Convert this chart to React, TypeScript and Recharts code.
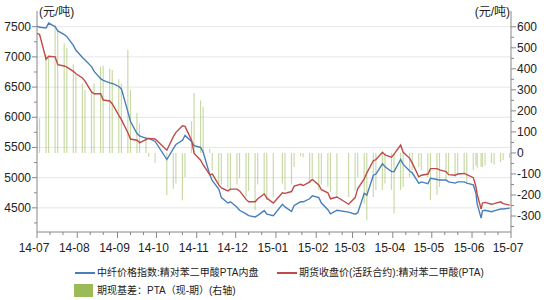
import React from 'react';
import { ComposedChart, Bar, Line, XAxis, YAxis, CartesianGrid } from 'recharts';

// trading days sampled (Tue/Thu, plus a couple of days around the June drop)
const dates = [
  '2014-07-01', '2014-07-03', '2014-07-08', '2014-07-10', '2014-07-15', '2014-07-17', '2014-07-22', '2014-07-24',
  '2014-07-29', '2014-07-31', '2014-08-05', '2014-08-07', '2014-08-12', '2014-08-14', '2014-08-19', '2014-08-21',
  '2014-08-26', '2014-08-28', '2014-09-02', '2014-09-04', '2014-09-09', '2014-09-11', '2014-09-16', '2014-09-18',
  '2014-09-23', '2014-09-25', '2014-09-30', '2014-10-09', '2014-10-14', '2014-10-16', '2014-10-21', '2014-10-23',
  '2014-10-28', '2014-10-30', '2014-11-04', '2014-11-06', '2014-11-11', '2014-11-13', '2014-11-18', '2014-11-20',
  '2014-11-25', '2014-11-27', '2014-12-02', '2014-12-04', '2014-12-09', '2014-12-11', '2014-12-16', '2014-12-18',
  '2014-12-23', '2014-12-25', '2014-12-30', '2015-01-06', '2015-01-08', '2015-01-13', '2015-01-15', '2015-01-20',
  '2015-01-22', '2015-01-27', '2015-01-29', '2015-02-03', '2015-02-05', '2015-02-10', '2015-02-12', '2015-02-17',
  '2015-02-26', '2015-03-03', '2015-03-05', '2015-03-10', '2015-03-12', '2015-03-17', '2015-03-19', '2015-03-24',
  '2015-03-26', '2015-03-31', '2015-04-02', '2015-04-07', '2015-04-09', '2015-04-14', '2015-04-16', '2015-04-21',
  '2015-04-23', '2015-04-28', '2015-04-30', '2015-05-05', '2015-05-07', '2015-05-12', '2015-05-14', '2015-05-19',
  '2015-05-21', '2015-05-26', '2015-05-28', '2015-06-02', '2015-06-04', '2015-06-05', '2015-06-08', '2015-06-09',
  '2015-06-11', '2015-06-16', '2015-06-18', '2015-06-23', '2015-06-25', '2015-06-30',
];

// 中纤价格指数:精对苯二甲酸PTA内盘 (元/吨)
const spotPrice = [
  7510, 7490, 7480, 7560, 7500, 7430, 7370, 7335, 7190, 7110, 6990, 6950, 6840, 6760, 6640, 6610,
  6570, 6560, 6510, 6470, 6090, 5930, 5730, 5690, 5650, 5650, 5600, 5300, 5480, 5550, 5620, 5700,
  5600, 5530, 5500, 5420, 5050, 4950, 4810, 4670, 4580, 4600, 4510, 4460, 4400, 4370, 4350, 4375,
  4455, 4395, 4370, 4560, 4515, 4440, 4540, 4600, 4600, 4650, 4700, 4670, 4580, 4470, 4400, 4460,
  4430, 4395, 4420, 4740, 4710, 5040, 5060, 5230, 5180, 5100, 5100, 5300, 5220, 5110, 5080, 4905,
  4930, 4900, 4990, 4970, 4960, 4960, 4930, 4910, 4930, 4930, 4910, 4880, 4740, 4560, 4330, 4450,
  4460, 4435, 4450, 4480, 4480, 4495,
];

// 期货收盘价(活跃合约):精对苯二甲酸(PTA) (元/吨)
const futuresPrice = [
  7390, 7370, 6960, 7010, 7000, 6870, 6850, 6830, 6760, 6720, 6650, 6600, 6420, 6390, 6390, 6285,
  6270, 6220, 6030, 5960, 5745, 5640, 5620, 5580, 5630, 5650, 5640, 5455, 5680, 5750, 5860, 5850,
  5620, 5400, 5290, 5210, 5050, 5060, 4880, 4830, 4780, 4810, 4810, 4780, 4640, 4600, 4600, 4650,
  4730, 4660, 4580, 4750, 4740, 4770, 4860, 4890, 4870, 4930, 4970, 4880, 4800, 4750, 4650, 4680,
  4560, 4670, 4820, 4980, 5080, 5280, 5300, 5420, 5375, 5340, 5390, 5540, 5420, 5320, 5240, 5015,
  5040, 5060, 5150, 5150, 5130, 5100, 5050, 5040, 5060, 5070, 5050, 5000, 4850, 4720, 4480, 4580,
  4590, 4560, 4570, 4600, 4570, 4545,
];

// 期现基差:PTA(现-期) (右轴, 元/吨)
const basis = [
  150, 165, 470, 455, 610, 580, 520, 500, 420, 370, 330, 300, 290, 330, 410, 415,
  400, 395, 350, 330, 490, 300, 190, 140, 78, -18, -48, -200, -170, -145, -225, -115,
  150, 285, 250, 220, 20, -82, -145, -150, -165, -176, -150, -120, -210, -180, -272, -150,
  -200, -224, -210, -145, -176, -150, -67, -15, -20, -145, -120, -176, -150, -162, -186, -210,
  -210, -180, -114, -240, -320, -210, -176, -176, -145, -176, -288, -176, -162, -114, -82, -67,
  -82, -114, -224, -200, -162, -129, -96, -114, -100, -96, -145, -82, -60, -70, -67, -67,
  -60, -48, -55, -43, -34, -24,
];

const monthTicks = [
  '2014-07-01', '2014-08-01', '2014-09-01', '2014-10-01', '2014-11-01', '2014-12-01', '2015-01-01',
  '2015-02-01', '2015-03-01', '2015-04-01', '2015-05-01', '2015-06-01', '2015-07-01',
];
const leftTicks = [4500, 5000, 5500, 6000, 6500, 7000, 7500];
const rightTicks = [-300, -200, -100, 0, 100, 200, 300, 400, 500, 600];

const START = Date.UTC(2014, 6, 1);
const toDay = (d: string) => {
  const [y, m, dd] = d.split('-').map(Number);
  return Math.round((Date.UTC(y, m - 1, dd) - START) / 86400000);
};

const data = dates.map((d, i) => ({
  day: toDay(d),
  spot: spotPrice[i],
  futures: futuresPrice[i],
  basis: basis[i],
}));

const majorDays = monthTicks.map(toDay);
const xTicks = [...majorDays, ...majorDays.slice(0, -1).flatMap((d) => [d + 10, d + 20])].sort((a, b) => a - b);
const leftAll = leftTicks.flatMap((v) => [v - 250, v]);
const rightAll = rightTicks.flatMap((v) => [v - 50, v]);

const AXIS = '#888';
const FONT = "'Liberation Sans', 'Noto Sans CJK SC', sans-serif";

const XTick = (props: any) => {
  const { x, y, payload } = props;
  const idx = majorDays.indexOf(payload.value);
  const major = idx >= 0;
  return (
    <g>
      <line x1={x} x2={x} y1={y} y2={y + (major ? 6 : 3)} stroke={AXIS} />
      {major && (
        <text x={x - 3} y={y + 20} textAnchor="middle" fontSize={12} fill="#222" fontFamily={FONT}>
          {monthTicks[idx].slice(2, 7)}
        </text>
      )}
    </g>
  );
};

const LeftTick = (props: any) => {
  const { x, y, payload } = props;
  const major = payload.value % 500 === 0;
  return (
    <g>
      <line x1={x - (major ? 5 : 3)} x2={x} y1={y} y2={y} stroke={AXIS} />
      {major && (
        <text x={x - 6} y={y + 4} textAnchor="end" fontSize={12} fill="#222" fontFamily={FONT}>
          {payload.value}
        </text>
      )}
    </g>
  );
};

const RightTick = (props: any) => {
  const { x, y, payload } = props;
  const major = payload.value % 100 === 0;
  return (
    <g>
      <line x1={x} x2={x + (major ? 5 : 3)} y1={y} y2={y} stroke={AXIS} />
      {major && (
        <text x={x + 6} y={y + 4} textAnchor="start" fontSize={12} fill="#222" fontFamily={FONT}>
          {payload.value}
        </text>
      )}
    </g>
  );
};

const legendText: React.CSSProperties = {
  position: 'absolute',
  fontSize: 10,
  lineHeight: '14px',
  color: '#222',
  whiteSpace: 'nowrap',
};

export default function App() {
  return (
    <div style={{ position: 'absolute', left: 0, top: 0, width: 550, height: 300, background: '#fff', fontFamily: FONT }}>
      <ComposedChart width={550} height={300} data={data} margin={{ top: 11, right: 0, bottom: 48, left: 0 }}>
        <CartesianGrid yAxisId="left" vertical={false} horizontalValues={leftTicks} stroke="#e6e6e6" />
        <XAxis
          dataKey="day"
          type="number"
          domain={[0, 365]}
          ticks={xTicks}
          interval={0}
          height={20}
          tickLine={false}
          tickSize={0}
          tickMargin={0}
          axisLine={{ stroke: AXIS }}
          tick={<XTick />}
          allowDataOverflow
        />
        <YAxis
          yAxisId="left"
          orientation="left"
          width={37}
          domain={[4100, 7760]}
          ticks={leftAll}
          interval={0}
          tickLine={false}
          tickSize={0}
          tickMargin={0}
          axisLine={{ stroke: AXIS }}
          tick={<LeftTick />}
          allowDataOverflow
        />
        <YAxis
          yAxisId="right"
          orientation="right"
          width={39}
          domain={[-376, 675]}
          ticks={rightAll}
          interval={0}
          tickLine={false}
          tickSize={0}
          tickMargin={0}
          axisLine={{ stroke: AXIS }}
          tick={<RightTick />}
          allowDataOverflow
        />
        <Bar yAxisId="right" dataKey="basis" fill="#9BBB59" fillOpacity={0.55} barSize={4} isAnimationActive={false} />
        <Line yAxisId="left" type="linear" dataKey="spot" stroke="#4A7EBB" strokeWidth={1.4} dot={false} isAnimationActive={false} />
        <Line yAxisId="left" type="linear" dataKey="futures" stroke="#BE4B48" strokeWidth={1.4} dot={false} isAnimationActive={false} />
      </ComposedChart>

      <div style={{ position: 'absolute', left: 39, top: 5, fontSize: 12, lineHeight: '14px', color: '#222' }}>(元/吨)</div>
      <div style={{ position: 'absolute', right: 40, top: 5, fontSize: 12, lineHeight: '14px', color: '#222', textAlign: 'right' }}>(元/吨)</div>

      <div style={{ position: 'absolute', left: 75, top: 272, width: 20, height: 2, background: '#4A7EBB' }} />
      <div style={{ ...legendText, left: 97, top: 266 }}>中纤价格指数:精对苯二甲酸PTA内盘</div>
      <div style={{ position: 'absolute', left: 277, top: 272, width: 20, height: 2, background: '#BE4B48' }} />
      <div style={{ ...legendText, left: 299, top: 266 }}>期货收盘价(活跃合约):精对苯二甲酸(PTA)</div>
      <div style={{ position: 'absolute', left: 74, top: 284, width: 19, height: 13, background: '#9BBB59' }} />
      <div style={{ ...legendText, left: 97, top: 284 }}>期现基差：PTA（现-期）(右轴)</div>
    </div>
  );
}
